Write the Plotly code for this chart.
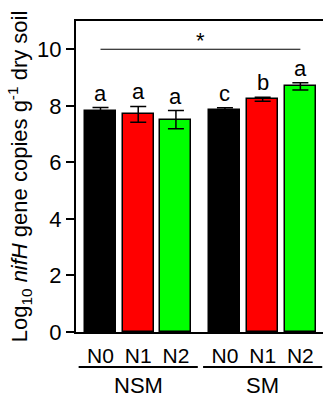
import plotly.graph_objects as go

# ---- data ----
groups = ["NSM", "SM"]
treatments = ["N0", "N1", "N2"]
values = [7.81, 7.70, 7.51, 7.85, 8.23, 8.69]
errors = [0.13, 0.28, 0.32, 0.08, 0.07, 0.13]
letters = ["a", "a", "a", "c", "b", "a"]
colors = ["#000000", "#ff0000", "#00ff00"]
sig_label = "*"
sig_level = 10.0

# ---- layout geometry ----
group_gap = 1.3
xs = []
tick_text = []
bar_colors = []
for gi, g in enumerate(groups):
    for ti, t in enumerate(treatments):
        xs.append(gi * (len(treatments) - 1 + group_gap) + ti)
        tick_text.append(t)
        bar_colors.append(colors[ti])

FONT = "Liberation Sans, Arial, sans-serif"
W, H = 323, 397
L, R, T, B = 76, 0, 21, 65
plot_h = H - T - B

fig = go.Figure()
fig.add_trace(go.Bar(
    x=xs, y=values, width=0.82,
    marker=dict(color=bar_colors, line=dict(color="black", width=1.5)),
    error_y=dict(type="data", array=errors, visible=True, color="black",
                 thickness=1.5, width=8),
    showlegend=False,
))

annotations = []
for x, v, e, lt in zip(xs, values, errors, letters):
    annotations.append(dict(x=x, y=v + e, xref="x", yref="y", text=lt,
                            showarrow=False, yanchor="bottom", yshift=0,
                            font=dict(size=22, color="black", family=FONT)))

# significance line and star
annotations.append(dict(x=(xs[0] + xs[-1]) / 2, y=sig_level, xref="x", yref="y",
                        text=sig_label, showarrow=False, yanchor="bottom", yshift=-6,
                        font=dict(size=22, color="black", family=FONT)))
shapes = [dict(type="line", xref="x", yref="y", x0=xs[0], x1=xs[-1],
               y0=sig_level, y1=sig_level, line=dict(color="black", width=1.2))]

# group lines + labels
def py(px):
    return -(px - (H - B)) / plot_h

n = len(treatments)
for gi, g in enumerate(groups):
    gx = xs[gi * n:(gi + 1) * n]
    x0 = gx[0] - 0.58
    x1 = gx[-1] + 0.58
    shapes.append(dict(type="line", xref="x", yref="paper", x0=x0, x1=x1,
                       y0=py(367), y1=py(367), line=dict(color="black", width=2)))
    annotations.append(dict(x=(gx[0] + gx[-1]) / 2, y=py(385), xref="x", yref="paper",
                            text=g, showarrow=False, yanchor="middle",
                            font=dict(size=22, color="black", family=FONT)))

fig.update_layout(
    width=W, height=H,
    margin=dict(l=L, r=R, t=T, b=B),
    plot_bgcolor="white", paper_bgcolor="white",
    font=dict(family=FONT, size=21, color="black"),
    bargap=0,
    xaxis=dict(range=[-0.65, 5.9], tickvals=xs, ticktext=tick_text,
               showline=True, linecolor="black", linewidth=2, mirror=True,
               ticks="", showgrid=False, zeroline=False, ticklabelstandoff=4,
               tickfont=dict(size=21, family=FONT, color="black")),
    yaxis=dict(range=[0, 11], tickvals=[0, 2, 4, 6, 8, 10],
               showline=True, linecolor="black", linewidth=2,
               ticks="outside", ticklen=8, tickwidth=2, tickcolor="black",
               showgrid=False, zeroline=False,
               tickfont=dict(size=22, family=FONT, color="black"),
               title=dict(text="Log<sub>10</sub> <i>nifH</i> gene copies g<sup>-1</sup> dry soil",
                          font=dict(size=22, family=FONT, color="black"), standoff=3)),
    annotations=annotations,
    shapes=shapes,
)

fig.write_html("out.html", config={"displayModeBar": False},
               post_script="document.body.style.margin='0';document.body.style.overflow='hidden';")
